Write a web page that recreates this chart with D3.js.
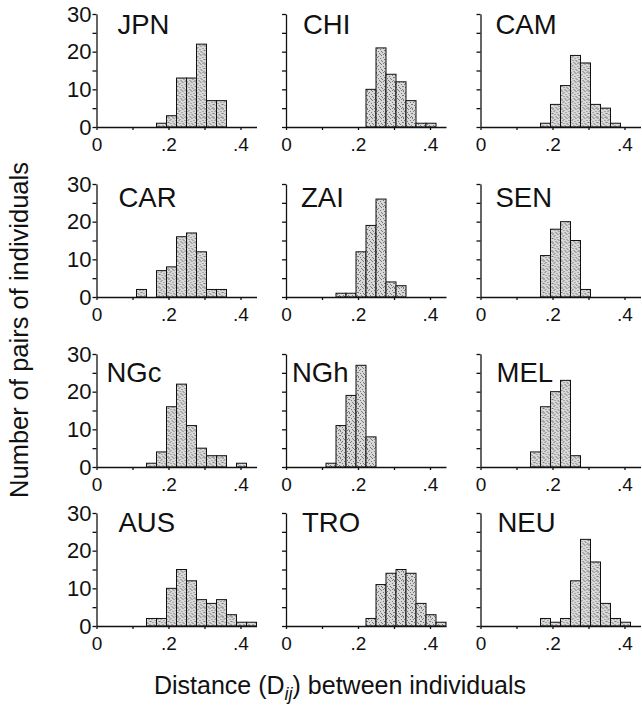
<!DOCTYPE html>
<html lang="en">
<head>
<meta charset="utf-8">
<title>Distance histograms</title>
<script src="https://d3js.org/d3.v7.min.js"></script>
<style>
  body { margin: 0; background: #fff; }
  svg { font-family: "Liberation Sans", Arial, sans-serif; }
</style>
</head>
<body>
<script>
// panel names, in reading order
const panels = ["JPN", "CHI", "CAM", "CAR", "ZAI", "SEN", "NGc", "NGh", "MEL", "AUS", "TRO", "NEU"];
// bins are 1/36 wide; firstBin = index of first bin drawn in each panel
const binWidth = 1 / 36;
const firstBin = [6, 8, 6, 4, 5, 6, 5, 4, 5, 5, 8, 6];
// counts per bin (number of pairs of individuals)
const JPN = [1, 3, 13, 13, 22, 7, 7];
const CHI = [10, 21, 14, 12, 7, 1, 1];
const CAM = [1, 6, 11, 19, 17, 6, 5, 1];
const CAR = [2, 0, 7, 8, 16, 17, 12, 2, 2];
const ZAI = [1, 1, 12, 19, 26, 4, 3];
const SEN = [11, 18, 20, 15, 2];
const NGc = [1, 4, 16, 22, 11, 5, 3, 3, 0, 1];
const NGh = [1, 11, 19, 27, 8];
const MEL = [4, 16, 20, 23, 3];
const AUS = [2, 2, 10, 15, 12, 7, 6, 7, 3, 1, 1];
const TRO = [2, 11, 14, 15, 14, 6, 3, 1];
const NEU = [2, 1, 2, 12, 23, 17, 6, 2, 1];
const counts = [JPN, CHI, CAM, CAR, ZAI, SEN, NGc, NGh, MEL, AUS, TRO, NEU];
// tick values
const xTicks = [0, 0.1, 0.2, 0.3, 0.4];
const xLabels = [0, 0.2, 0.4];
const yTicks = [0, 5, 10, 15, 20, 25, 30];
const yLabels = [0, 10, 20, 30];

const W = 642, H = 707;
const colX = [96.5, 286, 480.5];
const rowBase = [127, 297, 467, 626];
const pw = 160, ph = 113;
// where each panel name sits, relative to its panel origin
const labelDx = [21, 17, 15, 22, 15, 15, 10, 6, 16, 22, 16, 17];
const labelDy = [-93, -90, -85.5, -94];

const svg = d3.select("body").append("svg")
  .attr("width", W).attr("height", H);

// stipple fill like the printed figure (fixed dot layout in one tile)
const defs = svg.append("defs");
const pat = defs.append("pattern")
  .attr("id", "stip")
  .attr("patternUnits", "userSpaceOnUse")
  .attr("width", 9).attr("height", 9);
pat.append("rect").attr("width", 9).attr("height", 9).attr("fill", "#d8d8d8");
[[0, 0], [5, 0], [2, 1], [7, 2], [4, 3], [0, 4], [8, 4], [2, 5], [6, 6],
 [3, 7], [0, 8], [7, 8], [5, 5], [1, 2], [8, 7], [4, 8]].forEach(p => {
  pat.append("rect").attr("x", p[0]).attr("y", p[1])
    .attr("width", 1).attr("height", 1).attr("fill", "#777");
});

const x = d3.scaleLinear().domain([0, 16 / 36]).range([0, pw]);
const y = d3.scaleLinear().domain([0, 30]).range([0, -ph]);

const fmtX = d => xLabels.includes(d) ? (d === 0 ? "0" : d3.format(".1f")(d).replace("0.", ".")) : "";

panels.forEach((name, i) => {
  const col = i % 3, row = Math.floor(i / 3);
  const g = svg.append("g")
    .attr("transform", `translate(${colX[col]},${rowBase[row]})`);

  const bars = counts[i].map((c, k) => ({ bin: firstBin[i] + k, n: c }))
    .filter(d => d.n > 0);

  g.selectAll("rect.bar")
    .data(bars)
    .enter().append("rect")
    .attr("class", "bar")
    .attr("x", d => x(d.bin * binWidth))
    .attr("y", d => y(d.n))
    .attr("width", x(binWidth) - x(0))
    .attr("height", d => y(0) - y(d.n))
    .attr("fill", "url(#stip)")
    .attr("stroke", "#111")
    .attr("stroke-width", 1);

  // x axis
  const xa = g.append("g")
    .call(d3.axisBottom(x).tickValues(xTicks).tickSize(3).tickSizeOuter(0).tickFormat(fmtX));
  xa.selectAll("text").attr("font-size", 19).attr("fill", "#111").attr("dy", "0.95em");
  xa.selectAll("path, line").attr("stroke", "#111").attr("stroke-width", 1.3);

  // y axis
  const ya = g.append("g")
    .call(d3.axisLeft(y).tickValues(yTicks).tickSize(4).tickSizeOuter(0)
      .tickFormat(d => col === 0 && yLabels.includes(d) ? d : ""));
  ya.selectAll("text").attr("font-size", 22).attr("fill", "#111").attr("x", -5);
  ya.selectAll("path, line").attr("stroke", "#111").attr("stroke-width", 1.3);

  g.append("text")
    .attr("x", labelDx[i]).attr("y", labelDy[row])
    .attr("font-size", 27.5)
    .attr("fill", "#111")
    .text(name);
});

// axis titles
const xt = svg.append("text")
  .attr("x", 340).attr("y", 694)
  .attr("text-anchor", "middle")
  .attr("font-size", 25)
  .attr("fill", "#111");
xt.append("tspan").text("Distance (D");
xt.append("tspan").attr("font-style", "italic").attr("font-size", 18).attr("dy", 6).text("ij");
xt.append("tspan").attr("dy", -6).text(") between individuals");

svg.append("text")
  .attr("transform", "translate(28,330) rotate(-90)")
  .attr("text-anchor", "middle")
  .attr("font-size", 25.5)
  .attr("fill", "#111")
  .text("Number of pairs of individuals");
</script>
</body>
</html>
